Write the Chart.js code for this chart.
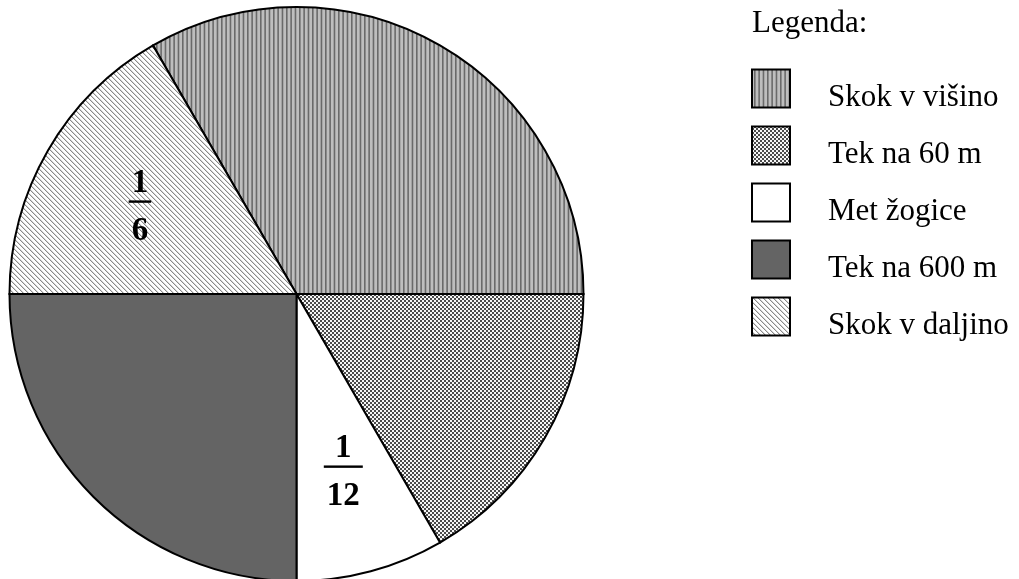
<!DOCTYPE html>
<html>
<head>
<meta charset="utf-8">
<title>Legenda</title>
<script src="https://cdn.jsdelivr.net/npm/chart.js@4.4.0/dist/chart.umd.min.js"></script>
<style>
  html, body { margin: 0; padding: 0; background: #fff; overflow: hidden; }
  #pie { display: block; }
</style>
</head>
<body>
<canvas id="pie" width="1019" height="600"></canvas>
<script>
// shares of each discipline, in twelfths
const categories = ['Skok v višino', 'Tek na 60 m', 'Met žogice', 'Tek na 600 m', 'Skok v daljino'];
const twelfths = [4, 2, 1, 3, 2];
// fraction written inside a slice (numerator, denominator), or null
const fractionLabels = [null, null, ['1', '12'], null, ['1', '6']];
const legendTitle = 'Legenda:';

/**
 * small helper to build a repeating fill from a tile
 */
const makePattern = (w, h, draw) => {
  const c = document.createElement('canvas');
  c.width = w;
  c.height = h;
  const g = c.getContext('2d');
  draw(g, w, h);
  return g.createPattern(c, 'repeat');
}

// vertical hatch
const vertical = makePattern(13, 1, (g, w, h) => {
  g.fillStyle = '#bebebe';
  g.fillRect(0, 0, w, h);
  g.fillStyle = '#6a6a6a';
  [0, 4.33, 8.67].forEach(x => g.fillRect(x, 0, 1.6, h));
});

// cross hatch (checker look)
const cross = makePattern(4, 4, (g) => {
  g.fillStyle = '#f6f6f6';
  g.fillRect(0, 0, 4, 4);
  g.fillStyle = '#4b4b4b';
  g.fillRect(0, 0, 2, 2);
  g.fillRect(2, 2, 2, 2);
});

// diagonal hatch "\"
const diagonal = makePattern(5, 5, (g, w, h) => {
  const img = g.createImageData(w, h);
  for (let y = 0; y < h; y++) {
    for (let x = 0; x < w; x++) {
      const d = (x - y + w) % w;
      const v = d === 0 ? 0x8a : (d === 1 ? 0xd6 : 0xff);
      const k = (y * w + x) * 4;
      img.data[k] = img.data[k + 1] = img.data[k + 2] = v;
      img.data[k + 3] = 255;
    }
  }
  g.putImageData(img, 0, 0);
});

const fills = [vertical, cross, '#ffffff', '#646464', diagonal];

// fractions inside slices
const fractionPlugin = {
  id: 'fractions',
  afterDatasetsDraw(chart) {
    const ctx = chart.ctx;
    const meta = chart.getDatasetMeta(0);
    ctx.save();
    ctx.font = 'bold 33px "Liberation Serif"';
    ctx.fillStyle = '#000';
    ctx.textAlign = 'center';
    ctx.textBaseline = 'alphabetic';
    meta.data.forEach((arc, i) => {
      const f = fractionLabels[i];
      if (!f) return;
      const p = arc.getProps(['x', 'y', 'startAngle', 'endAngle', 'outerRadius'], true);
      const mid = (p.startAngle + p.endAngle) / 2;
      const cx = p.x + Math.cos(mid) * p.outerRadius * 0.63;
      const cy = p.y + Math.sin(mid) * p.outerRadius * 0.63 - 2;
      const w = Math.max(ctx.measureText(f[0]).width, ctx.measureText(f[1]).width) + 6;
      ctx.fillText(f[0], cx, cy - 10);
      ctx.fillRect(cx - w / 2, cy - 1.2, w, 2.4);
      ctx.fillText(f[1], cx, cy + 38);
    });
    ctx.restore();
  }
}

// legend on the right
const legendPlugin = {
  id: 'sideLegend',
  afterDraw(chart) {
    const ctx = chart.ctx;
    ctx.save();
    ctx.font = '31px "Liberation Serif"';
    ctx.textBaseline = 'alphabetic';
    ctx.fillStyle = '#000';
    ctx.fillText(legendTitle, 752, 32);
    categories.forEach((name, i) => {
      const top = 69.5 + i * 57;
      ctx.fillStyle = fills[i];
      ctx.fillRect(752, top, 38, 38);
      ctx.lineWidth = 2;
      ctx.strokeStyle = '#000';
      ctx.strokeRect(752, top, 38, 38);
      ctx.fillStyle = '#000';
      ctx.fillText(name, 828, top + 36);
    });
    ctx.restore();
  }
}

new Chart(document.getElementById('pie'), {
  type: 'pie',
  data: {
    labels: categories,
    datasets: [{
      data: twelfths,
      backgroundColor: fills,
      borderColor: '#000',
      borderWidth: 2,
      borderJoinStyle: 'miter'
    }]
  },
  options: {
    responsive: false,
    animation: false,
    events: [],
    rotation: -30,
    layout: {
      padding: { left: 8.5, top: 6, right: 434.5, bottom: 18 }
    },
    plugins: {
      legend: { display: false },
      tooltip: { enabled: false }
    }
  },
  plugins: [fractionPlugin, legendPlugin]
});
</script>
</body>
</html>
